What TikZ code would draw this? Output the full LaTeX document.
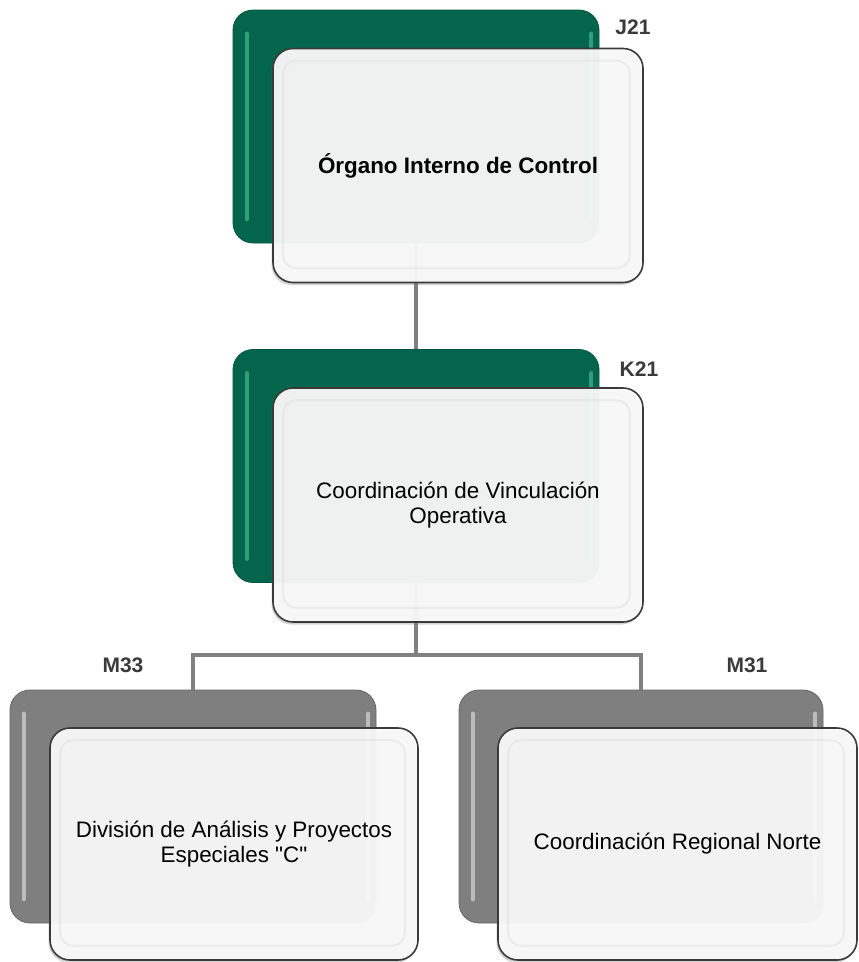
\documentclass[tikz,border=0pt]{standalone}
\usepackage{fontspec}
\setmainfont{Liberation Sans}[Ligatures=TeXOff]
\usetikzlibrary{calc,shadows}
\definecolor{grn}{HTML}{03664C}
\definecolor{grnhi}{HTML}{4FC29C}
\definecolor{gry}{HTML}{7F7F7F}
\definecolor{gryhi}{HTML}{E6E6E6}
\definecolor{connc}{HTML}{808080}
\definecolor{lblc}{HTML}{3A3A3A}
\definecolor{edgec}{HTML}{3A3A3A}
\definecolor{frontfill}{HTML}{FAFAFA}
\tikzset{
  connector/.style={draw=connc, line width=4pt},
  backbox/.style={rectangle, rounded corners=20pt, line width=0.8pt, inner sep=0pt, minimum height=233pt},
  backgreen/.style={backbox, fill=grn, draw=grn!85!black},
  backgray/.style={backbox, fill=gry, draw=gry!80!black},
  frontbox/.style={rectangle, rounded corners=20pt, fill=frontfill, fill opacity=0.94, text opacity=1,
    draw=edgec, draw opacity=1, line width=1.6pt, inner sep=0pt, minimum height=234pt, align=center,
    font=\fontsize{22.4}{24.5}\selectfont,
    drop shadow={shadow xshift=-1.5pt, shadow yshift=-2.5pt, opacity=0.35}},
  codelbl/.style={font=\bfseries\fontsize{21}{21}\selectfont, text=lblc},
  hilite/.style={line width=4pt, line cap=round},
  gloss/.style={draw=black!14, line width=2pt, rounded corners=13pt, opacity=0.4}
}
\begin{document}
\begin{tikzpicture}[x=1pt, y=-1pt]
\useasboundingbox (0,0) rectangle (859,962);
\fill[white] (0,0) rectangle (859,962);

% back boxes
\node[backgreen, minimum width=366pt] (jb) at (416,126.5) {};
\node[backgreen, minimum width=366pt] (kb) at (416,466) {};
\node[backgray, minimum width=366pt] (mlb) at (193,806.5) {};
\node[backgray, minimum width=364pt] (mrb) at (641,806.5) {};

% connectors
\coordinate (bus) at (416,655);
\draw[connector] (jb.south) -- (kb.north);
\draw[connector] (kb.south) -- (bus);
\draw[connector] (mlb.north) |- (bus) -| (mrb.north);

% highlights on back boxes
\foreach \b/\c in {jb/grnhi, kb/grnhi, mlb/gryhi, mrb/gryhi}{
  \draw[hilite, draw=\c, opacity=0.6] ($(\b.north west)+(14,24)$) -- ($(\b.south west)+(14,-24)$);
  \draw[hilite, draw=\c, opacity=0.6] ($(\b.north east)+(-8,24)$) -- ($(\b.south east)+(-8,-24)$);
}

% front boxes
\node[frontbox, minimum width=370pt] (jf) at (458,165.5) {\bfseries Órgano Interno de Control};
\node[frontbox, minimum width=370pt] (kf) at (458,505) {Coordinación de Vinculación\\Operativa};
\node[frontbox, minimum width=368pt, minimum height=232pt] (mlf) at (234,844) {División de Análisis y Proyectos\\Especiales "C"};
\node[frontbox, minimum width=359pt, minimum height=232pt] (mrf) at (677.5,844) {Coordinación Regional Norte};

% glossy inner outlines
\foreach \b in {jf, kf, mlf, mrf}{
  \draw[gloss] ($(\b.north west)+(11,13)$) rectangle ($(\b.south east)+(-14,-15)$);
}

% codes
\node[codelbl] (jl) at (633,27) {J21};
\node[codelbl] (kl) at (639,369) {K21};
\node[codelbl] (mll) at (123,665) {M33};
\node[codelbl] (mrl) at (747,665) {M31};
\end{tikzpicture}
\end{document}
